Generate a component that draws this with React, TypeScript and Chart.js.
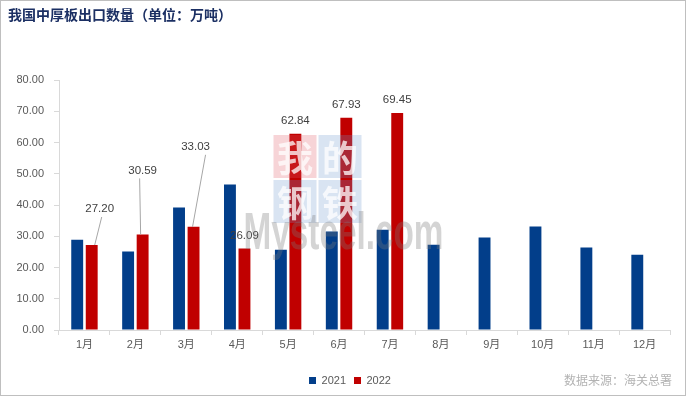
import React, { useEffect, useRef } from "react";
import { Chart, registerables } from "chart.js";

Chart.register(...registerables);

const TITLE = "我国中厚板出口数量（单位：万吨）";
const SOURCE = "数据来源：海关总署";
const MONTHS = ["1月", "2月", "3月", "4月", "5月", "6月", "7月", "8月", "9月", "10月", "11月", "12月"];
const SERIES_NAMES = ["2021", "2022"];
const VALUES_2021 = [28.9, 25.1, 39.2, 46.6, 25.7, 31.5, 32.1, 27.3, 29.6, 33.1, 26.4, 24.1];
const VALUES_2022 = [27.2, 30.59, 33.03, 26.09, 62.84, 67.93, 69.45];
const Y_MIN = 0;
const Y_MAX = 80;
const Y_STEP = 10;

const COLORS = ["#023E8A", "#C00000"];
// label displacement (style) for moved data labels of series 2022: [dx, dy, leaderStartDx, leaderEndDx]
const LABEL_SHIFT: number[][] = [
  [8, -23, 3, 2],
  [0, -51, -2, -3],
  [2, -67, -1, 10],
];

const W = 686;
const H = 396;

const decorPlugin = {
  id: "decor",
  afterLayout(chart: any) {
    const lg = chart.legend;
    if (lg) {
      lg.left += 15;
      lg.right += 15;
    }
  },
  afterDatasetsDraw(chart: any) {
    const ctx = chart.ctx;
    const ds = chart.data.datasets[1];
    const meta = chart.getDatasetMeta(1);
    ctx.save();
    ctx.font = '11.5px "Liberation Sans", Arial, sans-serif';
    ctx.fillStyle = "#404040";
    ctx.textAlign = "center";
    ctx.textBaseline = "middle";
    meta.data.forEach((bar: any, i: number) => {
      const v = ds.data[i];
      if (v == null) return;
      const s = LABEL_SHIFT[i] || [0, 0, 0, 0];
      const lx = bar.x + s[0];
      const ly = bar.y - 13 + s[1];
      if (s[0] || s[1]) {
        ctx.strokeStyle = "#a6a6a6";
        ctx.lineWidth = 1;
        ctx.beginPath();
        ctx.moveTo(bar.x + s[2], bar.y);
        ctx.lineTo(lx + s[3], ly + 8);
        ctx.stroke();
      }
      ctx.fillText(Number(v).toFixed(2), lx, ly);
    });
    ctx.restore();
  },
  afterDraw(chart: any) {
    const ctx = chart.ctx;
    const ca = chart.chartArea;
    ctx.save();
    // watermark
    const cx = (ca.left + ca.right) / 2;
    const cy = (ca.top + ca.bottom) / 2;
    const tx = cx - 91;
    const ty = cy - 70;
    const tiles = [
      { ch: "我", x: tx, y: ty, c: "rgba(225,90,100,0.26)" },
      { ch: "的", x: tx + 45, y: ty, c: "rgba(110,150,205,0.26)" },
      { ch: "钢", x: tx, y: ty + 45, c: "rgba(110,150,205,0.26)" },
      { ch: "铁", x: tx + 45, y: ty + 45, c: "rgba(110,150,205,0.26)" },
    ];
    tiles.forEach((t) => {
      ctx.fillStyle = t.c;
      ctx.fillRect(t.x, t.y, 43, 43);
      ctx.fillStyle = "rgba(255,255,255,0.75)";
      ctx.font = 'bold 36px "Noto Sans CJK SC", sans-serif';
      ctx.textAlign = "center";
      ctx.textBaseline = "middle";
      ctx.fillText(t.ch, t.x + 21.5, t.y + 23);
    });
    ctx.font = 'bold 52px "Liberation Sans", Arial, sans-serif';
    const mw = ctx.measureText("Mysteel.com").width;
    ctx.translate(tx - 30, ty + 114);
    ctx.scale(200 / mw, 1);
    ctx.fillStyle = "rgba(120,120,120,0.32)";
    ctx.textAlign = "left";
    ctx.textBaseline = "alphabetic";
    ctx.fillText("Mysteel.com", 0, 0);
    ctx.setTransform(1, 0, 0, 1, 0, 0);
    // title
    ctx.fillStyle = "#1B2F63";
    ctx.font = 'bold 14px "Noto Sans CJK SC", sans-serif';
    ctx.textAlign = "left";
    ctx.textBaseline = "middle";
    ctx.fillText(TITLE, 8, 15);
    // source
    ctx.fillStyle = "#b3b3b3";
    ctx.font = '12px "Noto Sans CJK SC", sans-serif';
    ctx.textAlign = "right";
    ctx.fillText(SOURCE, 672, 380);
    // frame
    ctx.strokeStyle = "#bfbfbf";
    ctx.lineWidth = 1;
    ctx.strokeRect(0.5, 0.5, W - 1, H - 1);
    ctx.restore();
  },
};

export default function App() {
  const ref = useRef<HTMLCanvasElement | null>(null);
  useEffect(() => {
    if (!ref.current) return;
    const font = '"Liberation Sans", "Noto Sans CJK SC", sans-serif';
    const chart = new Chart(ref.current, {
      type: "bar",
      data: {
        labels: MONTHS,
        datasets: [
          {
            label: SERIES_NAMES[0],
            data: VALUES_2021,
            backgroundColor: COLORS[0],
            categoryPercentage: 0.57,
            barPercentage: 0.82,
          },
          {
            label: SERIES_NAMES[1],
            data: VALUES_2022,
            backgroundColor: COLORS[1],
            categoryPercentage: 0.57,
            barPercentage: 0.82,
          },
        ],
      },
      options: {
        responsive: false,
        animation: false,
        devicePixelRatio: 1,
        layout: { padding: { top: 80, left: 0, right: 16, bottom: 0 } },
        plugins: {
          title: { display: false },
          tooltip: { enabled: false },
          legend: {
            position: "bottom",
            labels: {
              boxWidth: 7,
              boxHeight: 7,
              padding: 8,
              color: "#595959",
              font: { size: 11, family: font },
            },
          },
        },
        scales: {
          x: {
            grid: { drawOnChartArea: false, tickLength: 5, color: "#d9d9d9", offset: true },
            border: { color: "#d9d9d9" },
            ticks: { color: "#595959", font: { size: 11, family: font }, padding: 3, maxRotation: 0 },
            afterFit: (s: any) => {
              s.height = 37;
            },
          },
          y: {
            min: Y_MIN,
            max: Y_MAX,
            grid: { drawOnChartArea: false, tickLength: 5, color: "#d9d9d9" },
            border: { color: "#d9d9d9" },
            ticks: {
              stepSize: Y_STEP,
              color: "#595959",
              font: { size: 11, family: font },
              padding: 10,
              callback: (v: any) => Number(v).toFixed(2),
            },
            afterFit: (s: any) => {
              s.width = 59;
            },
          },
        },
      },
      plugins: [decorPlugin],
    });
    return () => chart.destroy();
  }, []);
  return (
    <div style={{ position: "absolute", left: 0, top: 0, width: W, height: H, background: "#fff" }}>
      <canvas ref={ref} width={W} height={H} style={{ display: "block" }} />
    </div>
  );
}
